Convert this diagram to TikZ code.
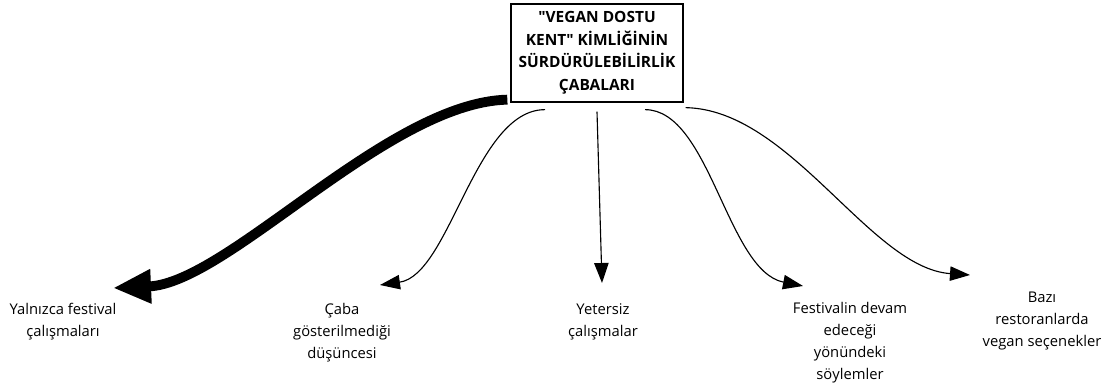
\documentclass[tikz,border=0pt]{standalone}
\usepackage{fontspec}
\setmainfont{Open Sans}
\usetikzlibrary{arrows.meta}
\begin{document}
\begin{tikzpicture}[x=0.025cm,y=-0.025cm,
    theme/.style={draw,line width=0.9pt,align=center,inner sep=2pt,
        minimum width=4.3cm,minimum height=2.45cm,
        font=\fontsize{11}{16}\selectfont\bfseries},
    lbl/.style={align=center,anchor=north,inner sep=0pt,
        font=\fontsize{10.5}{15.6}\selectfont},
    link/.style={-{Triangle[length=0.5cm,width=0.36cm]},line width=0.8pt},
    mainlink/.style={-{Triangle[length=0.95cm,width=0.8cm]},line width=7pt}]

    \useasboundingbox (0,0) rectangle (1105,385);

    \node[theme] (vdk) at (597,53) {\textquotedbl VEGAN DOSTU\\KENT\textquotedbl{} KİMLİĞİNİN\\SÜRDÜRÜLEBİLİRLİK\\ÇABALARI};

    \node[lbl] (fest) at (63,303) {Yalnızca festival\\çalışmaları};
    \node[lbl] (caba) at (342,303) {Çaba\\gösterilmediği\\düşüncesi};
    \node[lbl] (yet) at (603,303) {Yetersiz\\çalışmalar};
    \node[lbl] (soy) at (850,302) {Festivalin devam\\edeceği\\yönündeki\\söylemler};
    \node[lbl] (rest) at (1042,292) {Bazı\\restoranlarda\\vegan seçenekler};

    % connectors
    \draw[mainlink] ([shift={(-3,-3)}]vdk.south west) .. controls +(-120,3) and +(115,-5) .. ([shift={(50,-15)}]fest.north);
    \draw[link] ([shift={(-52,7)}]vdk.south) .. controls +(-70,0) and +(70,-10) .. ([shift={(38,-18)}]caba.north);
    \draw[link] ([shift={(0,9)}]vdk.south) -- ([shift={(-1,-20)}]yet.north);
    \draw[link] ([shift={(48,7)}]vdk.south) .. controls +(65,0) and +(-76,-15) .. ([shift={(-47,-16)}]soy.north);
    \draw[link] ([shift={(2,5)}]vdk.south east) .. controls +(105,2) and +(-100,-7) .. ([shift={(-72,-17)}]rest.north);
\end{tikzpicture}
\end{document}
